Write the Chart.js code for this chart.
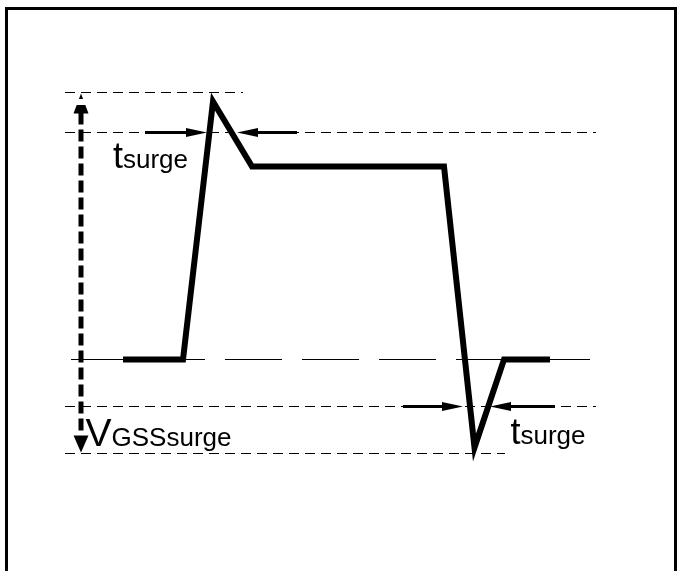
<!DOCTYPE html>
<html>
<head>
<meta charset="utf-8">
<script src="https://cdn.jsdelivr.net/npm/chart.js@4"></script>
<style>
html, body { margin: 0; padding: 0; background: #fff; overflow: hidden; }
#wrap { position: relative; width: 680px; height: 571px; }
#wave { position: absolute; left: 0; top: 0; }
#frame { position: absolute; left: 5px; top: 7px; width: 666px; height: 600px;
  border: 3px solid #000; border-bottom: none; pointer-events: none; }
</style>
</head>
<body>
<div id="wrap">
  <canvas id="wave" width="680" height="571"></canvas>
  <div id="frame"></div>
</div>
<script>
// gate waveform (time and voltage in arbitrary units, 0 = bias level)
const waveTime = [12.3, 18.3, 21.3, 25.2, 44.4, 47.45, 50.4, 55.0];
const waveVolt = [0, 0, 25.8, 19.3, 19.3, -8.8, 0, 0];

// dashed reference levels
const levelVolt = [26.7, 22.7, -4.7, -9.4];
const levelStart = [6.5, 6.5, 6.5, 6.5];
const levelEnd = [24.3, 59.6, 59.6, 50.5];

// bias level (long dashes)
const biasVolt = 0;
const biasStart = 6.5;
const biasEnd = 59.6;

// tsurge arrows
const arrowFrom = [14.5, 29.7, 40.3, 55.5];
const arrowTo = [20.7, 23.7, 46.3, 49.0];
const arrowVolt = [22.7, 22.7, -4.7, -4.7];

// VGSSsurge span
const spanTime = 8.1;
const spanTop = 26.6;
const spanBottom = -9.3;

// labels
const labelMain = ['t', 't', 'V'];
const labelSub = ['surge', 'surge', 'GSSsurge'];
const labelTime = [11.3, 51.05, 8.55];
const labelVolt = [19.2, -8.4, -8.6];

const FONT = '"Liberation Sans", Arial, sans-serif';

const datasets = [];
datasets.push({
  data: waveTime.map((t, i) => ({ x: t, y: waveVolt[i] })),
  showLine: true, borderColor: '#000', borderWidth: 6, pointRadius: 0,
  borderJoinStyle: 'miter'
});
levelVolt.forEach((v, i) => {
  datasets.push({
    data: [{ x: levelStart[i], y: v }, { x: levelEnd[i], y: v }],
    showLine: true, borderColor: '#000', borderWidth: 1, pointRadius: 0,
    borderDash: [10, 6]
  });
});
datasets.push({
  data: [{ x: biasStart, y: biasVolt }, { x: biasEnd, y: biasVolt }],
  showLine: true, borderColor: '#000', borderWidth: 1, pointRadius: 0,
  borderDash: [57, 20], borderDashOffset: 71
});

function head(ctx, x, y, dx, dy, len, half) {
  // tip at (x,y), pointing along (dx,dy)
  const bx = x - dx * len, by = y - dy * len;
  ctx.beginPath();
  ctx.moveTo(x, y);
  ctx.lineTo(bx - dy * half, by + dx * half);
  ctx.lineTo(bx + dy * half, by - dx * half);
  ctx.closePath();
  ctx.fill();
}

const annotate = {
  id: 'annotate',
  afterDatasetsDraw(chart) {
    const ctx = chart.ctx;
    const xs = chart.scales.x, ys = chart.scales.y;
    ctx.save();
    ctx.fillStyle = '#000';
    ctx.strokeStyle = '#000';

    // horizontal tsurge arrows
    arrowFrom.forEach((f, i) => {
      const x0 = xs.getPixelForValue(f);
      const x1 = xs.getPixelForValue(arrowTo[i]);
      const y = ys.getPixelForValue(arrowVolt[i]);
      const dir = x1 > x0 ? 1 : -1;
      const len = 21;
      ctx.lineWidth = 3;
      ctx.beginPath();
      ctx.moveTo(x0, y);
      ctx.lineTo(x1 - dir * len, y);
      ctx.stroke();
      head(ctx, x1, y, dir, 0, len, 4.5);
    });

    // vertical VGSSsurge arrow
    const vx = xs.getPixelForValue(spanTime);
    const vt = ys.getPixelForValue(spanTop);
    const vb = ys.getPixelForValue(spanBottom);
    ctx.lineWidth = 5;
    ctx.setLineDash([12, 5]);
    ctx.beginPath();
    ctx.moveTo(vx, vt + 19);
    ctx.lineTo(vx, vb - 17);
    ctx.stroke();
    ctx.setLineDash([]);
    head(ctx, vx, vt, 0, -1, 20, 7.5);
    head(ctx, vx, vb, 0, 1, 17, 7.5);
    // gap of the dash pattern through the upper head
    ctx.clearRect(vx - 9, vt + 5, 18, 6);

    // labels
    ctx.textBaseline = 'alphabetic';
    ctx.textAlign = 'left';
    labelMain.forEach((m, i) => {
      const x = xs.getPixelForValue(labelTime[i]);
      const y = ys.getPixelForValue(labelVolt[i]);
      ctx.font = (m === 'V' ? 39 : 36) + 'px ' + FONT;
      ctx.fillText(m, x, y);
      const w = ctx.measureText(m).width;
      ctx.font = '26px ' + FONT;
      ctx.fillText(labelSub[i], x + w, y);
    });
    ctx.restore();
  }
};

new Chart(document.getElementById('wave').getContext('2d'), {
  type: 'scatter',
  data: { datasets: datasets },
  options: {
    responsive: false,
    animation: false,
    layout: { padding: 0 },
    plugins: { legend: { display: false }, tooltip: { enabled: false } },
    scales: {
      x: { type: 'linear', display: false, min: 0, max: 68 },
      y: { type: 'linear', display: false, min: -21.15, max: 35.95 }
    }
  },
  plugins: [annotate]
});
</script>
</body>
</html>
